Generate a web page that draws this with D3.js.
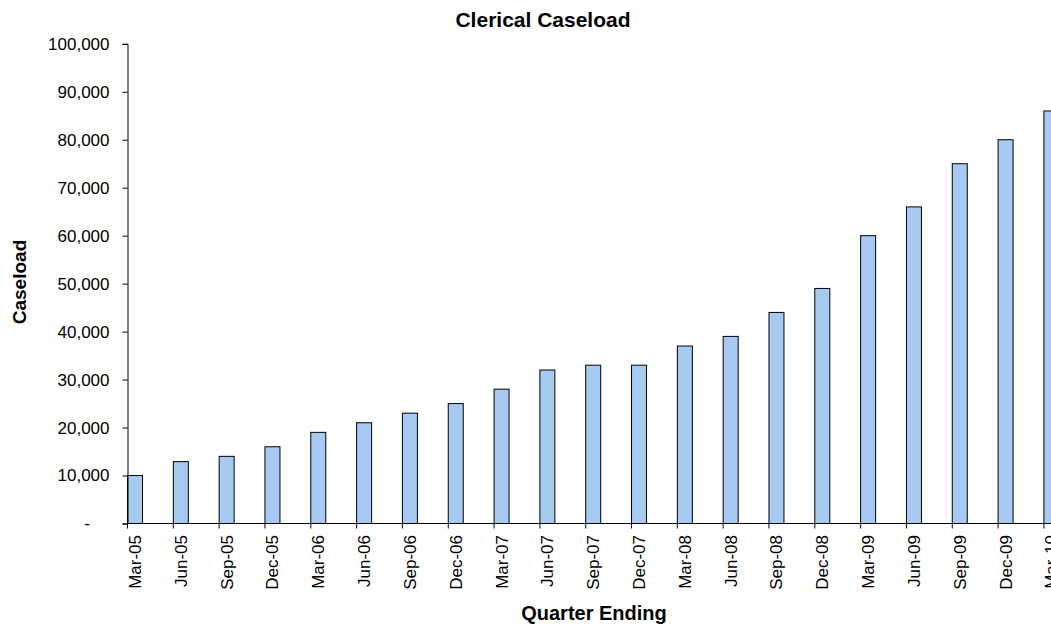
<!DOCTYPE html>
<html><head><meta charset="utf-8">
<script src="https://cdn.jsdelivr.net/npm/d3@7"></script>
<style>body{margin:0;background:#fff;overflow:hidden}svg{display:block}text{font-family:"Liberation Sans",Arial,sans-serif;fill:#000}</style>
</head><body>
<script>
const categories = ["Mar-05","Jun-05","Sep-05","Dec-05","Mar-06","Jun-06","Sep-06","Dec-06","Mar-07","Jun-07","Sep-07","Dec-07","Mar-08","Jun-08","Sep-08","Dec-08","Mar-09","Jun-09","Sep-09","Dec-09","Mar-10"];
const caseload = [10000,12900,14000,16000,19000,21000,23000,25000,28000,32000,33000,33000,37000,39000,44000,49000,60000,66000,75000,80000,86000];
const yTicks = [0,10000,20000,30000,40000,50000,60000,70000,80000,90000,100000];

const W=1051,H=624;
const FONT="Liberation Sans, Arial, sans-serif";
const svg=d3.select("body").append("svg").attr("width",W).attr("height",H);
const x0=127.5, step=45.82;
const x=d3.scaleBand().domain(categories).range([x0,x0+step*categories.length]).paddingInner(0).paddingOuter(0);
const y=d3.scaleLinear().domain([0,100000]).range([523.5,43.8]);
const barW=15;

svg.selectAll("rect.bar").data(categories).join("rect").attr("class","bar")
  .attr("x",d=>x(d)).attr("width",barW)
  .attr("y",(d,i)=>y(caseload[i])).attr("height",(d,i)=>y(0)-y(caseload[i]))
  .attr("fill","#A6CAF0").attr("stroke","#000").attr("stroke-width",1);

// Y axis
const yAxis=d3.axisLeft(y).tickValues(yTicks).tickSize(5).tickPadding(13)
  .tickFormat(d=>d===0?"-":d3.format(",")(d));
const gy=svg.append("g").attr("transform",`translate(${x0},0)`).call(yAxis);
gy.attr("font-size",null).attr("font-family",null);
gy.select(".domain").attr("stroke","#000");
gy.selectAll(".tick line").attr("stroke","#000");
gy.selectAll("text").style("font-size","17px").style("font-family",FONT);
gy.selectAll(".tick").filter(d=>d===0).select("text").attr("x",-37.5);

// X axis
const gx=svg.append("g").attr("transform",`translate(0,${y(0)})`);
gx.append("line").attr("x1",x0).attr("x2",W).attr("stroke","#000");
gx.selectAll("line.t").data(categories).join("line").attr("class","t")
  .attr("x1",d=>x(d)).attr("x2",d=>x(d)).attr("y1",0).attr("y2",5).attr("stroke","#000");
gx.selectAll("text.l").data(categories).join("text").attr("class","l")
  .attr("transform",d=>`translate(${x(d)+13.5},11.5) rotate(-90)`)
  .attr("text-anchor","end").style("font-size","17px").style("font-family",FONT).text(d=>d);

svg.append("text").attr("x",543).attr("y",27).attr("text-anchor","middle")
  .style("font-size","21px").style("font-weight","bold").text("Clerical Caseload");
svg.append("text").attr("x",594).attr("y",620).attr("text-anchor","middle")
  .style("font-size","20px").style("font-weight","bold").text("Quarter Ending");
svg.append("text").attr("transform","translate(25.5,282) rotate(-90)").attr("text-anchor","middle")
  .style("font-size","19px").style("font-weight","bold").text("Caseload");
</script>
</body></html>
